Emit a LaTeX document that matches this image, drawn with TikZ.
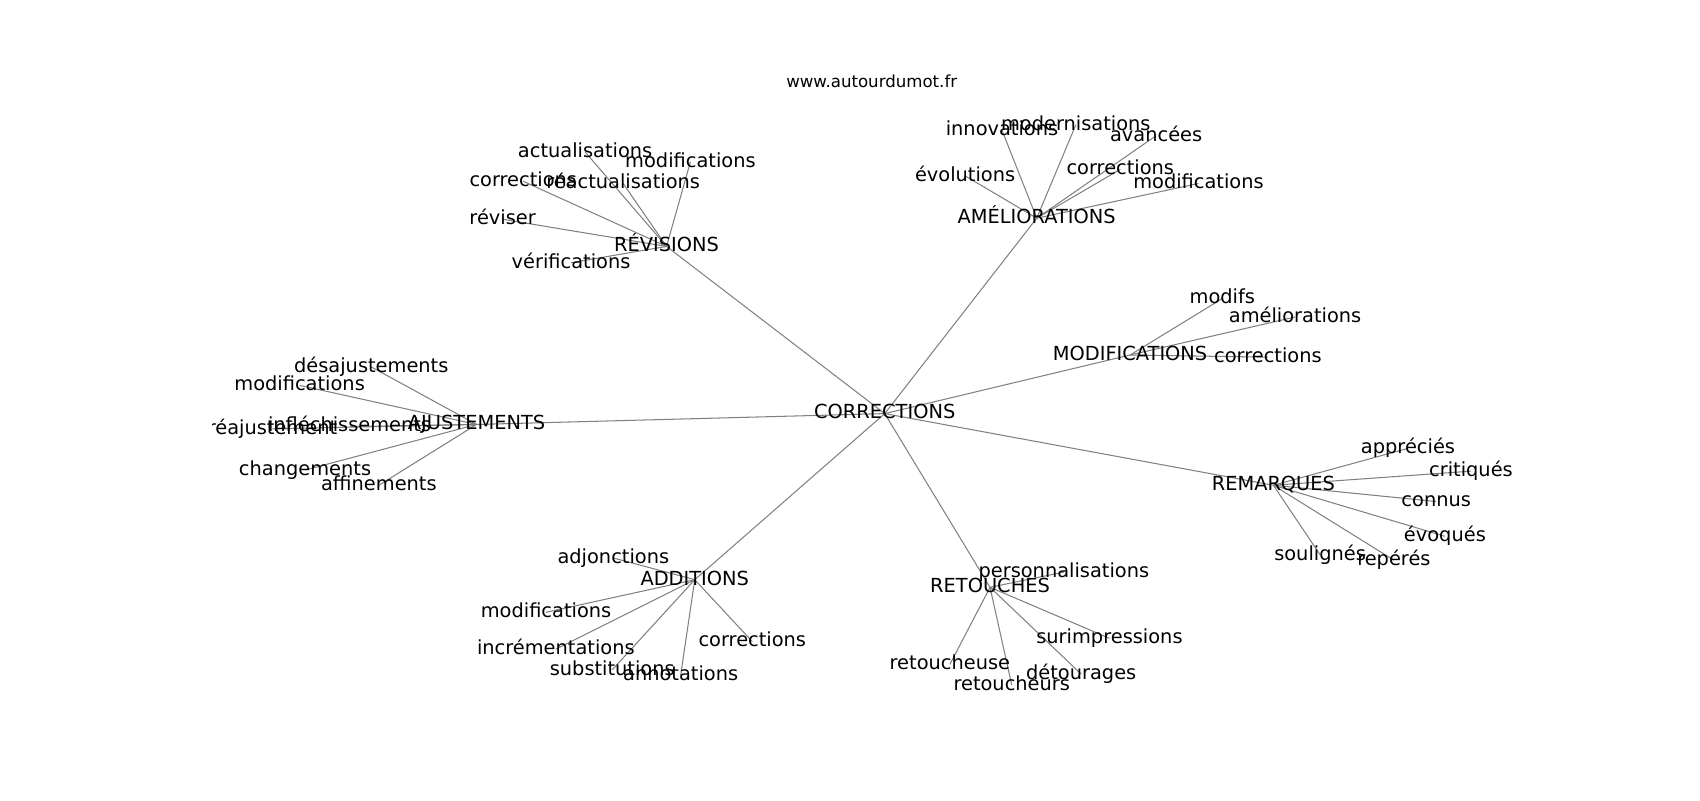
\documentclass[tikz,border=0pt]{standalone}
\usepackage{fontspec}
\setmainfont{DejaVu Sans}
\definecolor{edgegray}{RGB}{128,128,128}
\usetikzlibrary{backgrounds}
\tikzstyle{word} = [inner sep=0pt, text height=0.98em, text depth=0.21em, font=\fontsize{14}{16}\selectfont]
\tikzstyle{heading} = [inner sep=0pt, text height=0.98em, text depth=0.21em, font=\fontsize{12}{14}\selectfont]
\tikzstyle{edge} = [draw=edgegray, line width=0.75pt]
\begin{document}
\begin{tikzpicture}[x=0.010856in, y=-0.010856in]
    \useasboundingbox (0,0) rectangle (1566,737);
    \node (title) [heading] at (803,76) {www.autourdumot.fr};

    \begin{scope}
        \clip (195.9,88.5) rectangle (1410,656);
        \node (node0) [word] at (815,381) {CORRECTIONS};
        \node (node1) [word] at (614,227) {RÉVISIONS};
        \node (node2) [word] at (955,201) {AMÉLIORATIONS};
        \node (node3) [word] at (1041,327) {MODIFICATIONS};
        \node (node4) [word] at (1173,447) {REMARQUES};
        \node (node5) [word] at (912,541) {RETOUCHES};
        \node (node6) [word] at (640,534) {ADDITIONS};
        \node (node7) [word] at (439,391) {AJUSTEMENTS};

        \node (node11) [word] at (539,140) {actualisations};
        \node (node12) [word] at (636,149) {modifications};
        \node (node13) [word] at (574,169) {réactualisations};
        \node (node14) [word] at (482,167) {corrections};
        \node (node15) [word] at (463,202) {réviser};
        \node (node16) [word] at (526,242) {vérifications};

        \node (node21) [word] at (923,120) {innovations};
        \node (node22) [word] at (991,115) {modernisations};
        \node (node23) [word] at (1065,125) {avancées};
        \node (node24) [word] at (1032,156) {corrections};
        \node (node25) [word] at (1104,169) {modifications};
        \node (node26) [word] at (889,162) {évolutions};

        \node (node31) [word] at (1126,275) {modifs};
        \node (node32) [word] at (1193,292) {améliorations};
        \node (node33) [word] at (1168,329) {corrections};

        \node (node41) [word] at (1297,413) {appréciés};
        \node (node42) [word] at (1355,434) {critiqués};
        \node (node43) [word] at (1323,462) {connus};
        \node (node44) [word] at (1331,494) {évoqués};
        \node (node45) [word] at (1216,511) {soulignés};
        \node (node46) [word] at (1284,516) {repérés};

        \node (node51) [word] at (980,527) {personnalisations};
        \node (node52) [word] at (1022,588) {surimpressions};
        \node (node53) [word] at (996,621) {détourages};
        \node (node54) [word] at (932,631) {retoucheurs};
        \node (node55) [word] at (875,612) {retoucheuse};

        \node (node61) [word] at (565,514) {adjonctions};
        \node (node62) [word] at (503,564) {modifications};
        \node (node63) [word] at (512,598) {incrémentations};
        \node (node64) [word] at (564,617) {substitutions};
        \node (node65) [word] at (627,622) {annotations};
        \node (node66) [word] at (693,591) {corrections};

        \node (node71) [word] at (342,338) {désajustements};
        \node (node72) [word] at (276,355) {modifications};
        \node (node73) [word] at (251,395) {réajustement};
        \node (node74) [word] at (322,393) {infléchissements};
        \node (node75) [word] at (281,433) {changements};
        \node (node76) [word] at (349,447) {affinements};
    \end{scope}

    \begin{scope}[on background layer]
        \draw [edge] (node0.center) -- (node1.center);
        \draw [edge] (node0.center) -- (node2.center);
        \draw [edge] (node0.center) -- (node3.center);
        \draw [edge] (node0.center) -- (node4.center);
        \draw [edge] (node0.center) -- (node5.center);
        \draw [edge] (node0.center) -- (node6.center);
        \draw [edge] (node0.center) -- (node7.center);

        \draw [edge] (node1.center) -- (node11.center);
        \draw [edge] (node1.center) -- (node12.center);
        \draw [edge] (node1.center) -- (node13.center);
        \draw [edge] (node1.center) -- (node14.center);
        \draw [edge] (node1.center) -- (node15.center);
        \draw [edge] (node1.center) -- (node16.center);

        \draw [edge] (node2.center) -- (node21.center);
        \draw [edge] (node2.center) -- (node22.center);
        \draw [edge] (node2.center) -- (node23.center);
        \draw [edge] (node2.center) -- (node24.center);
        \draw [edge] (node2.center) -- (node25.center);
        \draw [edge] (node2.center) -- (node26.center);

        \draw [edge] (node3.center) -- (node31.center);
        \draw [edge] (node3.center) -- (node32.center);
        \draw [edge] (node3.center) -- (node33.center);

        \draw [edge] (node4.center) -- (node41.center);
        \draw [edge] (node4.center) -- (node42.center);
        \draw [edge] (node4.center) -- (node43.center);
        \draw [edge] (node4.center) -- (node44.center);
        \draw [edge] (node4.center) -- (node45.center);
        \draw [edge] (node4.center) -- (node46.center);

        \draw [edge] (node5.center) -- (node51.center);
        \draw [edge] (node5.center) -- (node52.center);
        \draw [edge] (node5.center) -- (node53.center);
        \draw [edge] (node5.center) -- (node54.center);
        \draw [edge] (node5.center) -- (node55.center);

        \draw [edge] (node6.center) -- (node61.center);
        \draw [edge] (node6.center) -- (node62.center);
        \draw [edge] (node6.center) -- (node63.center);
        \draw [edge] (node6.center) -- (node64.center);
        \draw [edge] (node6.center) -- (node65.center);
        \draw [edge] (node6.center) -- (node66.center);

        \draw [edge] (node7.center) -- (node71.center);
        \draw [edge] (node7.center) -- (node72.center);
        \draw [edge] (node7.center) -- (node73.center);
        \draw [edge] (node7.center) -- (node74.center);
        \draw [edge] (node7.center) -- (node75.center);
        \draw [edge] (node7.center) -- (node76.center);
    \end{scope}
\end{tikzpicture}
\end{document}
